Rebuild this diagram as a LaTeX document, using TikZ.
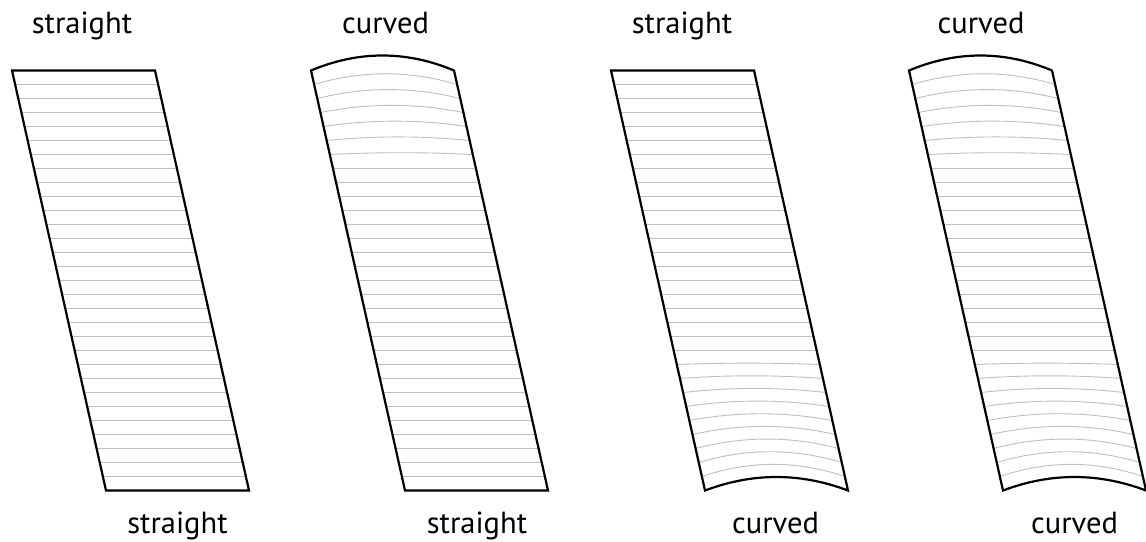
\documentclass[tikz,border=0pt]{standalone}
\usepackage{fontspec}
\setmainfont{PT Sans}
\begin{document}
\begin{tikzpicture}[x=1pt,y=-1pt,
  outline/.style={line width=2.2pt, line join=miter},
  rule/.style={line width=0.9pt, draw=black!25},
  lbl/.style={font=\fontsize{30.5}{36}\selectfont, anchor=base, inner sep=0pt}]
\useasboundingbox (0,0) rectangle (1146,541);
\foreach \xo/\tc/\bc in {12/0/0, 311/1/0, 611/0/1, 909/1/1} {
  \foreach \k in {1,...,29} {
    \pgfmathsetmacro\yy{70.5+14*\k}
    \pgfmathsetmacro\xl{\xo+94*\k/30}
    \pgfmathsetmacro\xr{\xl+143}
    \pgfmathsetmacro\xa{\xl+143/3}
    \pgfmathsetmacro\xb{\xl+2*143/3}
    \pgfmathsetmacro\sg{\tc*(\k<7)*12.5*(1-\k/7)+\bc*(\k>20)*13.5*(1-(30-\k)/10)}
    \pgfmathsetmacro\yc{\yy-4*\sg/3}
    \draw[rule] (\xl,\yy) .. controls (\xa,\yc) and (\xb,\yc) .. (\xr,\yy);
  }
  \pgfmathsetmacro\ta{70.5-4*15*\tc/3}
  \pgfmathsetmacro\ba{490.5-4*13.5*\bc/3}
  \draw[outline] (\xo,70.5) .. controls (\xo+47.67,\ta) and (\xo+95.33,\ta) .. (\xo+143,70.5)
    -- (\xo+237,490.5) .. controls (\xo+189.33,\ba) and (\xo+141.67,\ba) .. (\xo+94,490.5) -- cycle;
}
\node[lbl] (t1) at (82,33) {straight};
\node[lbl] (t2) at (385.5,33) {curved};
\node[lbl] (t3) at (682,33) {straight};
\node[lbl] (t4) at (981,33) {curved};
\node[lbl] (b1) at (177.5,533) {straight};
\node[lbl] (b2) at (477,533) {straight};
\node[lbl] (b3) at (775.5,533) {curved};
\node[lbl] (b4) at (1074.5,533) {curved};
\end{tikzpicture}
\end{document}
